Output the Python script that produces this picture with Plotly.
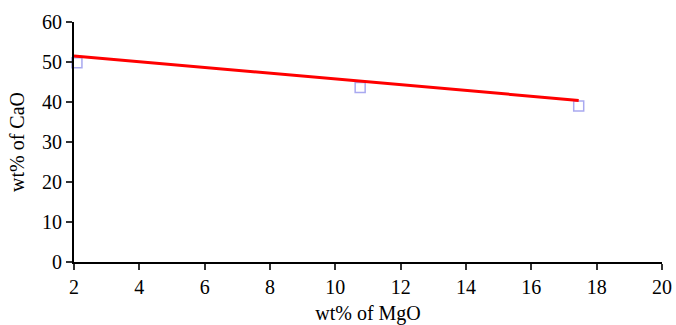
import plotly.graph_objects as go

# Data
mgo = [2.09, 10.76, 17.45]
cao = [49.8, 43.6, 39.0]
trend_x = [2.0, 17.45]
trend_y = [51.5, 40.4]

x_ticks = [2, 4, 6, 8, 10, 12, 14, 16, 18, 20]
y_ticks = [0, 10, 20, 30, 40, 50, 60]

font = dict(family="Liberation Serif, Times New Roman, serif", size=20, color="black")

fig = go.Figure()
fig.add_trace(go.Scatter(
    x=mgo, y=cao, mode="markers",
    marker=dict(symbol="square-open", size=10, color="#a9a9f0", line=dict(width=1.5)),
    showlegend=False, cliponaxis=False,
))
fig.add_trace(go.Scatter(
    x=trend_x, y=trend_y, mode="lines",
    line=dict(color="#ff0000", width=3),
    showlegend=False, cliponaxis=False,
))

fig.update_layout(
    width=676, height=325,
    margin=dict(l=74, r=14, t=22, b=63, autoexpand=False),
    paper_bgcolor="white", plot_bgcolor="white",
    font=font,
)
fig.update_xaxes(
    range=[2, 20], tickvals=x_ticks, ticktext=[str(v) for v in x_ticks],
    showgrid=False, zeroline=False, automargin=True,
    ticklabeloverflow="allow",
    showline=True, linecolor="black", linewidth=2,
    ticks="outside", ticklen=6, tickwidth=1.5, tickcolor="#333",
    title=dict(text="wt% of MgO", font=font, standoff=9),
)
fig.update_yaxes(
    range=[0, 60], tickvals=y_ticks, ticktext=[str(v) for v in y_ticks],
    showgrid=False, zeroline=False, automargin=True,
    ticklabeloverflow="allow",
    showline=True, linecolor="black", linewidth=2,
    ticks="outside", ticklen=6, tickwidth=1.5, tickcolor="#333",
    title=dict(text="wt% of CaO", font=font, standoff=12),
)

# remove the page's default body margin so the figure fills the window exactly
fig.write_html(
    "out.html",
    config={"displayModeBar": False},
    post_script="document.body.style.margin='0';document.body.style.overflow='hidden';",
)
